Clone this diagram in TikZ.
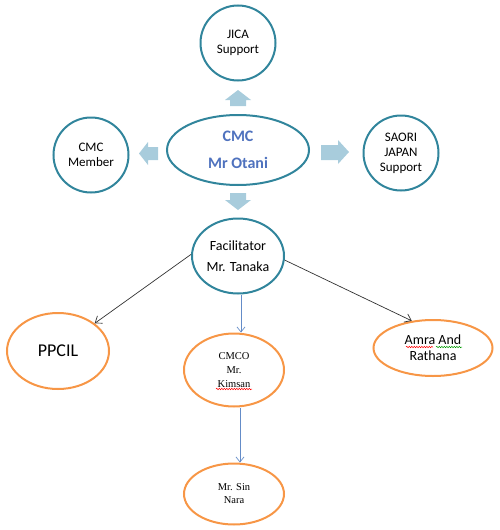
\documentclass[tikz,border=0pt]{standalone}
\usepackage{fontspec}
\setmainfont{Carlito}
\newfontfamily\serifface{Liberation Serif}
\usetikzlibrary{shapes.geometric,arrows.meta,decorations.pathmorphing}
\definecolor{teal}{RGB}{49,133,156}
\definecolor{orng}{RGB}{247,150,70}
\definecolor{lblue}{RGB}{168,204,220}
\definecolor{txtblue}{RGB}{79,114,190}
\definecolor{lineblue}{RGB}{100,140,200}
\definecolor{linegray}{RGB}{50,50,50}
\tikzset{
  tcirc/.style={circle,draw=teal,line width=2pt,minimum size=75pt,inner sep=0pt,align=center,
    font=\fontsize{13}{15}\selectfont},
  tell/.style={ellipse,draw=teal,line width=2pt,inner sep=0pt,align=center},
  oell/.style={ellipse,draw=orng,line width=2pt,inner sep=0pt,align=center},
  blk/.style={draw=linegray,line width=0.7pt,-{Straight Barb[length=6pt,width=9pt]}},
  blu/.style={draw=lineblue,line width=0.7pt,-{Straight Barb[length=5pt,width=8pt]}},
  barr/.style={fill=lblue},
  squig/.style={decorate,decoration={snake,amplitude=0.7pt,segment length=2.5pt},line width=0.5pt}
}
\begin{document}
\begin{tikzpicture}[x=1pt,y=-1pt]
\useasboundingbox (0,0) rectangle (500,530);
% nodes
\node[tcirc] (jica) at (238,43) {JICA\\Support};
\node[tell,minimum width=142pt,minimum height=70pt,text=txtblue,
  font=\bfseries\fontsize{16}{27}\selectfont] (cmc) at (238,150) {CMC\\Mr Otani};
\node[tcirc] (member) at (91,155) {CMC\\Member};
\node[tcirc] (saori) at (401,153) {SAORI\\JAPAN\\Support};
\node[tell,minimum width=92pt,minimum height=75pt,font=\fontsize{14}{21}\selectfont] (fac) at (238,256) {Facilitator\\Mr. Tanaka};
\node[oell,minimum width=102pt,minimum height=76pt,font=\fontsize{18}{20}\selectfont] (ppcil) at (58,351) {PPCIL};
\node[oell,minimum width=100pt,minimum height=73pt,font=\serifface\fontsize{10.5}{13.7}\selectfont] (cmco) at (234,370) {CMCO\\Mr.\\Kimsan};
\node[oell,minimum width=119pt,minimum height=56pt,font=\fontsize{14}{16}\selectfont] (amra) at (433,348) {Amra And\\Rathana};
\node[oell,minimum width=100pt,minimum height=61pt,font=\serifface\fontsize{10.5}{13}\selectfont] (sin) at (234,494) {Mr. Sin\\Nara};
% block arrows
\fill[barr] (230,106) -- (230,100) -- (225,100) -- (238,90) -- (251,100) -- (246,100) -- (246,106) -- cycle; % up
\fill[barr] (230,193) -- (230,200) -- (225,200) -- (238,210) -- (251,200) -- (246,200) -- (246,193) -- cycle; % down
\fill[barr] (158,147) -- (148,147) -- (148,142) -- (139,153.5) -- (148,165) -- (148,160) -- (158,160) -- cycle; % left
\fill[barr] (321,145) -- (338,145) -- (338,140) -- (349,152) -- (338,164) -- (338,160) -- (321,160) -- cycle; % right
% connectors
\draw[blk] (fac.178) -- (ppcil.37);
\draw[blk] (fac.-5) -- (amra.128);
\draw[blu] ([xshift=3pt]fac.south) -- ([xshift=7pt]cmco.north);
\draw[blu] ([xshift=6pt]cmco.south) -- ([xshift=6pt]sin.north);
% spell-check marks
\draw[squig,red] (406,347) -- (433,347);
\draw[squig,green!60!black] (436,347) -- (462,347);
\draw[squig,red] (216,389) -- (252,389);
\end{tikzpicture}
\end{document}
